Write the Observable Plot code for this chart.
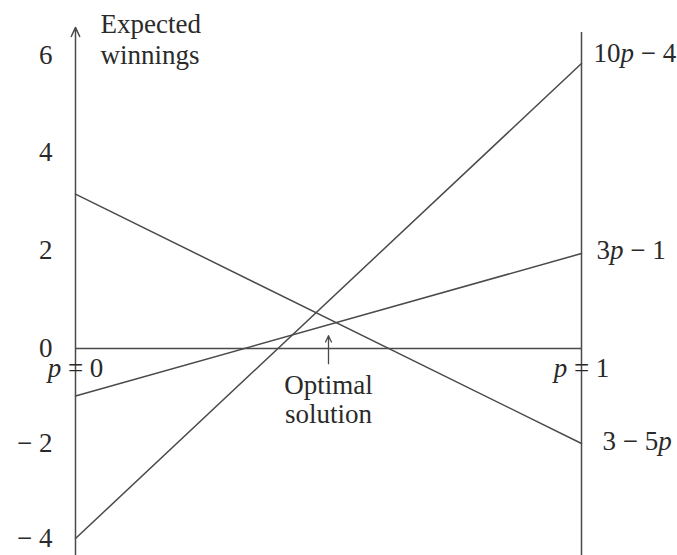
<!DOCTYPE html>
<html>
<head>
<meta charset="utf-8">
<script src="https://cdn.jsdelivr.net/npm/d3@7"></script>
<script src="https://cdn.jsdelivr.net/npm/@observablehq/plot@0.6"></script>
<style>
  html, body { margin: 0; padding: 0; background: #fff; }
  #chart svg { display: block; }
</style>
</head>
<body>
<div id="chart"></div>
<script>
// Data
const pValues = [0, 1];
const lineNames = ["10p − 4", "3p − 1", "3 − 5p"];
const valuesAtP0 = [-4, -1, 3.25];
const valuesAtP1 = [6, 2, -2];
const tickValues = [-4, -2, 0, 2, 4, 6];
const tickLabels = ["− 4", "− 2", "0", "2", "4", "6"];
const endLabels = ["p = 0", "p = 1"];
const yTitle = "Expected\nwinnings";
const optimalLabel = "Optimal\nsolution";
const optimalP = 0.5;

const lineData = [];
lineNames.forEach((name, i) => {
  lineData.push({name, p: pValues[0], v: valuesAtP0[i]});
  lineData.push({name, p: pValues[1], v: valuesAtP1[i]});
});
const rightLabels = lineNames.map((name, i) => ({name, v: valuesAtP1[i]}));
// label offsets (style only)
const labelOffsets = {"10p − 4": [12, -10], "3p − 1": [15, -3], "3 − 5p": [21, -2]};

const font = "Liberation Serif, Times New Roman, serif";
const ink = "#2a2a2a";
const stroke = "#4a4a4a";
const fs = 27;

const yTop = 7.326, yBottom = -4.358;

const chart = Plot.plot({
  width: 677,
  height: 555,
  marginLeft: 75,
  marginRight: 96,
  marginTop: 0,
  marginBottom: 0,
  style: {fontFamily: font, background: "#fff"},
  x: {domain: [0, 1], axis: null},
  y: {domain: [yBottom, yTop], axis: null},
  marks: [
    // left axis with open arrowhead
    Plot.arrow([0], {x1: 0, x2: 0, y1: yBottom, y2: 6.76, stroke, strokeWidth: 1.5, headLength: 10, headAngle: 50}),
    // right vertical
    Plot.ruleX([1], {y1: yBottom, y2: 6.65, stroke, strokeWidth: 1.5}),
    // zero line
    Plot.ruleY([0], {x1: 0, x2: 1, stroke, strokeWidth: 1.5}),
    // strategy lines
    Plot.line(lineData, {x: "p", y: "v", z: "name", stroke, strokeWidth: 1.5}),
    // optimal arrow
    Plot.arrow([optimalP], {x1: d => d, x2: d => d, y1: -0.32, y2: 0.27, stroke, strokeWidth: 1.3, headLength: 8, headAngle: 50}),
    // tick labels
    Plot.text(tickValues, {x: 0, y: d => (d > 0 ? d * 1.028 : d) + 0.01, text: (d, i) => tickLabels[i], textAnchor: "end", dx: -23, fontSize: fs, fill: ink}),
    // p = 0 / p = 1
    Plot.text(endLabels, {x: (d, i) => pValues[i], y: 0, text: d => d, dy: 20, fontSize: fs, fill: ink}),
    // right labels
    ...rightLabels.map(r => Plot.text([r], {x: 1, y: "v", text: "name", textAnchor: "start",
      dx: labelOffsets[r.name][0], dy: labelOffsets[r.name][1], fontSize: fs, fill: ink})),
    // y title
    Plot.text([yTitle], {frameAnchor: "top-left", text: d => d, dx: 25, dy: 10, lineHeight: 1.15, fontSize: fs, fill: ink}),
    // optimal solution label
    Plot.text([optimalLabel], {x: optimalP, y: 0, text: d => d, lineAnchor: "top", dy: 25, lineHeight: 1.07, fontSize: fs, fill: ink})
  ]
});

// italicize variable p
d3.select(chart).selectAll("text").each(function() {
  const node = this;
  if (node.querySelectorAll("tspan").length) return;
  const t = node.textContent;
  if (!/p/.test(t) || /[a-oq-z]/i.test(t.replace(/p/g, ""))) return;
  node.textContent = "";
  t.split(/(p)/).forEach(part => {
    if (!part) return;
    const ts = document.createElementNS("http://www.w3.org/2000/svg", "tspan");
    ts.textContent = part;
    if (part === "p") ts.setAttribute("font-style", "italic");
    node.appendChild(ts);
  });
});

document.getElementById("chart").appendChild(chart);
</script>
</body>
</html>
